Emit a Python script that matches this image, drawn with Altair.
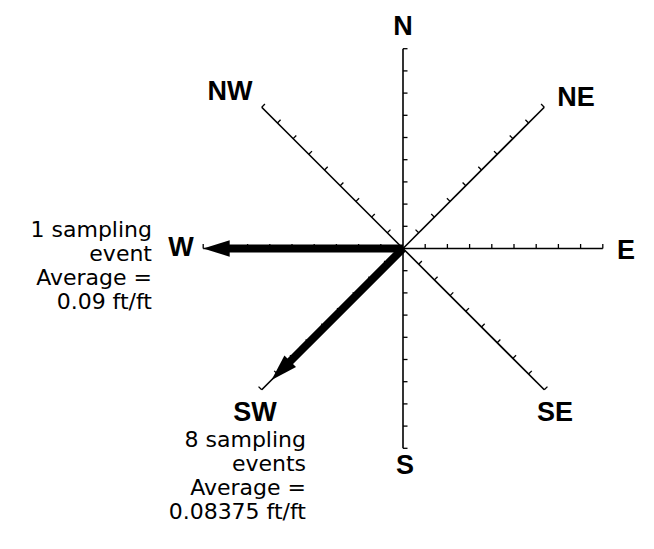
import altair as alt
import numpy as np
import pandas as pd

# ---- data ----
directions = ["N", "NE", "E", "SE", "S", "SW", "W", "NW"]
bearing_deg = [90, 45, 0, 315, 270, 225, 180, 135]      # math angle of each compass axis
tick_side_deg = [0, 135, 90, 45, 0, 135, 90, 45]        # side the tick marks point to
tick_values = [0.01, 0.02, 0.03, 0.04, 0.05, 0.06, 0.07, 0.08, 0.09]
axis_length = 0.09

# direction label anchors (ft/ft units, relative to centre)
label_x = [0.0, 0.0779, 0.1005, 0.0685, 0.0009, -0.0667, -0.100, -0.0779]
label_y = [0.0998, 0.0678, -0.0011, -0.0741, -0.098, -0.0741, 0.0002, 0.0705]

arrow_dirs = ["W", "SW"]
arrow_values = [0.09, 0.08375]

w_block_lines = ["1 sampling", "event", "Average =", "0.09 ft/ft"]
sw_block_lines = ["8 sampling", "events", "Average =", "0.08375 ft/ft"]

# ---- geometry helpers ----
PX = 2220.0            # pixels per ft/ft unit
W, H = 638, 533
cx, cy = 395.0, 240.5  # centre in chart pixels
xs = alt.Scale(domain=[-cx / PX, (W - cx) / PX], nice=False, zero=False)
ys = alt.Scale(domain=[-(H - cy) / PX, cy / PX], nice=False, zero=False)

ang = dict(zip(directions, bearing_deg))
side = dict(zip(directions, tick_side_deg))

axes_df = pd.DataFrame({
    "d": directions,
    "x": 0.0, "y": 0.0,
    "x2": [axis_length * np.cos(np.radians(a)) for a in bearing_deg],
    "y2": [axis_length * np.sin(np.radians(a)) for a in bearing_deg],
})

tick_len = 4.5 / PX
rows = []
for d in directions:
    a = np.radians(ang[d]); s = np.radians(side[d])
    for v in tick_values:
        px, py = v * np.cos(a), v * np.sin(a)
        rows.append({"x": px, "y": py,
                     "x2": px + tick_len * np.cos(s), "y2": py + tick_len * np.sin(s)})
ticks_df = pd.DataFrame(rows)

head_len = 18 / PX
shaft_rows, head_rows = [], []
for d, v in zip(arrow_dirs, arrow_values):
    a = np.radians(ang[d])
    shaft_rows.append({"x": 0.0, "y": 0.0,
                       "x2": (v - head_len) * np.cos(a), "y2": (v - head_len) * np.sin(a)})
    head_rows.append({"x": v * np.cos(a), "y": v * np.sin(a),
                      "rot": (90 - ang[d]) % 360})
shaft_df = pd.DataFrame(shaft_rows)
head_df = pd.DataFrame(head_rows)

labels_df = pd.DataFrame({"d": directions, "x": label_x, "y": label_y})

line_step = 24 / PX
ann_rows = []
for i, t in enumerate(w_block_lines):
    ann_rows.append({"t": t, "x": -251 / PX, "y": 11.5 / PX - i * line_step})
for i, t in enumerate(sw_block_lines):
    ann_rows.append({"t": t, "x": -97 / PX, "y": -198.5 / PX - i * line_step})
ann_df = pd.DataFrame(ann_rows)

X = lambda: alt.X("x:Q", scale=xs, axis=None)
Y = lambda: alt.Y("y:Q", scale=ys, axis=None)

axes = alt.Chart(axes_df).mark_rule(color="black", strokeWidth=1.6).encode(
    x=X(), y=Y(), x2="x2:Q", y2="y2:Q")
ticks = alt.Chart(ticks_df).mark_rule(color="black", strokeWidth=1.3).encode(
    x=X(), y=Y(), x2="x2:Q", y2="y2:Q")
shafts = alt.Chart(shaft_df).mark_rule(color="black", strokeWidth=8, strokeCap="butt").encode(
    x=X(), y=Y(), x2="x2:Q", y2="y2:Q")
heads = alt.Chart(head_df).mark_point(
    shape="M0,0L0.62,2L-0.62,2Z", filled=True, color="black", opacity=1, size=700,
    strokeWidth=0).encode(x=X(), y=Y(), angle=alt.Angle("rot:Q", scale=None))
labels = alt.Chart(labels_df).mark_text(
    font="Liberation Sans", fontWeight="bold", fontSize=27, color="black",
    align="center", baseline="middle").encode(x=X(), y=Y(), text="d:N")
ann = alt.Chart(ann_df).mark_text(
    font="DejaVu Sans", fontSize=22, color="black", align="right",
    baseline="alphabetic").encode(x=X(), y=Y(), text="t:N")

chart = alt.layer(axes, ticks, shafts, heads, labels, ann).properties(
    width=W, height=H, padding=0, autosize=alt.AutoSizeParams(type="none"),
    background="white"
).configure_view(stroke=None)

chart.save("out.html", embed_options={"renderer": "svg", "actions": False})
